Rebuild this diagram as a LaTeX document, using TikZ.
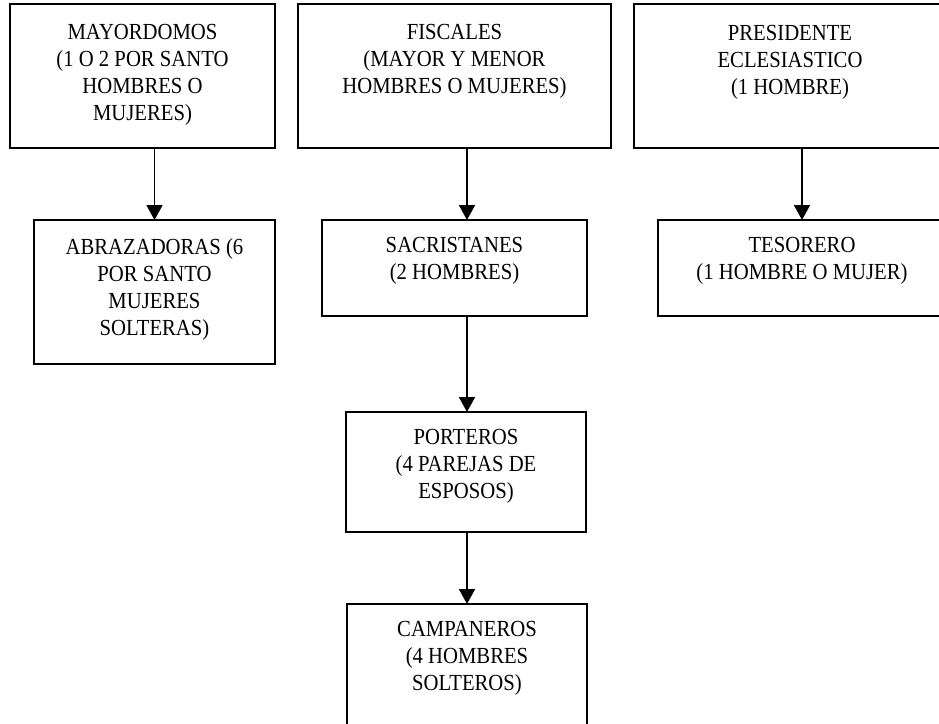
\documentclass[tikz,border=0pt]{standalone}
\usepackage{fontspec}
\setmainfont[FakeStretch=0.9]{Liberation Serif}
\usetikzlibrary{arrows.meta,calc}
\begin{document}
\begin{tikzpicture}[x=1pt,y=-1pt,
  box/.style={draw=black,line width=1.8pt,fill=none,inner sep=0pt,outer sep=0pt,rectangle},
  txt/.style={anchor=north,align=center,inner sep=0pt,font=\fontsize{23}{27}\selectfont},
  arr/.style={line width=1.8pt,-{Triangle[width=16pt,length=15pt]}}]
\useasboundingbox (0,0) rectangle (939,723);
\clip (0,0) rectangle (939,723);
% boxes
\node[box,minimum width=265pt,minimum height=144pt] (b1) at (142.5,76) {};
\node[box,minimum width=313pt,minimum height=144pt] (b2) at (454.5,76) {};
\node[box,minimum width=312pt,minimum height=144pt] (b3) at (790,76) {};
\node[box,minimum width=241pt,minimum height=144pt] (b4) at (154.5,292) {};
\node[box,minimum width=265pt,minimum height=96pt] (b5) at (454.5,268) {};
\node[box,minimum width=288pt,minimum height=96pt] (b6) at (802,268) {};
\node[box,minimum width=240pt,minimum height=120pt] (b7) at (466,472) {};
\node[box,minimum width=240pt,minimum height=144pt] (b8) at (467,676) {};
% texts
\node[txt] (t1) at ($(b1.north)+(0,20)$) {MAYORDOMOS\\(1 O 2 POR SANTO\\HOMBRES O\\MUJERES)};
\node[txt] (t2) at ($(b2.north)+(0,20)$) {FISCALES\\(MAYOR Y MENOR\\HOMBRES O MUJERES)};
\node[txt] (t3) at ($(b3.north)+(0,21)$) {PRESIDENTE\\ECLESIASTICO\\(1 HOMBRE)};
\node[txt] (t4) at ($(b4.north)+(0,18)$) {ABRAZADORAS (6\\POR SANTO\\MUJERES\\SOLTERAS)};
\node[txt] (t5) at ($(b5.north)+(0,17)$) {SACRISTANES\\(2 HOMBRES)};
\node[txt] (t6) at ($(b6.north)+(0,17)$) {TESORERO\\(1 HOMBRE O MUJER)};
\node[txt] (t7) at ($(b7.north)+(0,17)$) {PORTEROS\\(4 PAREJAS DE\\ESPOSOS)};
\node[txt] (t8) at ($(b8.north)+(0,17)$) {CAMPANEROS\\(4 HOMBRES\\SOLTEROS)};
% connectors
\draw[arr] ([xshift=12pt]b1.south) -- (b4.north);
\draw[arr] ([xshift=12.5pt]b2.south) -- ([xshift=12.5pt]b5.north);
\draw[arr] ([xshift=12pt]b3.south) -- (b6.north);
\draw[arr] ([xshift=12.5pt]b5.south) -- ([xshift=1pt]b7.north);
\draw[arr] ([xshift=1pt]b7.south) -- (b8.north);
\end{tikzpicture}
\end{document}
